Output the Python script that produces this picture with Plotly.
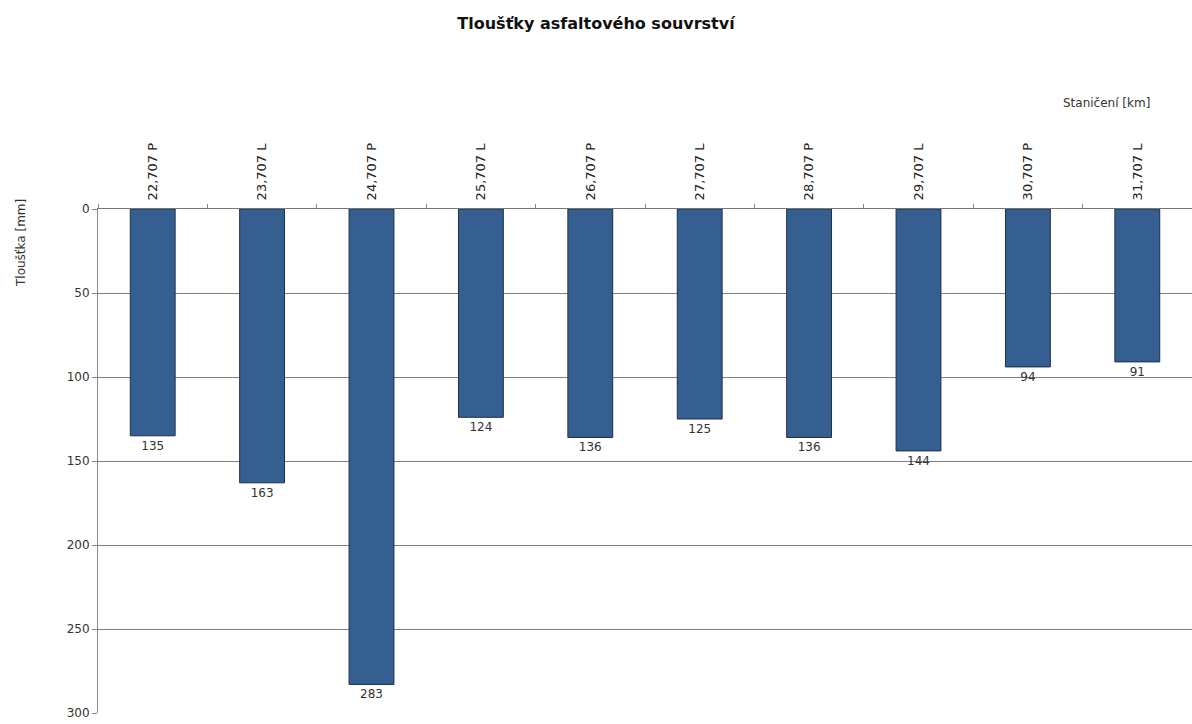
import plotly.graph_objects as go

categories = ["22,707 P", "23,707 L", "24,707 P", "25,707 L", "26,707 P",
              "27,707 L", "28,707 P", "29,707 L", "30,707 P", "31,707 L"]
values = [135, 163, 283, 124, 136, 125, 136, 144, 94, 91]
y_ticks = [0, 50, 100, 150, 200, 250, 300]

font = "DejaVu Sans, sans-serif"

fig = go.Figure(go.Bar(
    x=categories, y=values,
    marker=dict(color="#365f91", line=dict(color="#1f2f45", width=1)),
    text=[str(v) for v in values], textposition="outside",
    textfont=dict(size=12, color="#333333", family=font),
    cliponaxis=False, width=0.41,
))

fig.update_layout(
    width=1192, height=724,
    margin=dict(l=98, r=0, t=209, b=11),
    paper_bgcolor="white", plot_bgcolor="white",
    showlegend=False,
    font=dict(family=font, size=12, color="#333333"),
    title=dict(text="<b>Tloušťky asfaltového souvrství</b>", x=0.5, xanchor="center",
               y=1 - 23 / 724, yanchor="middle", font=dict(size=16, color="#111111", family=font)),
    xaxis=dict(side="top", tickangle=-90, showgrid=False, showline=True,
               linecolor="#777777", linewidth=1, ticks="outside", ticklen=4,
               tickcolor="#888888", tickson="boundaries", ticklabelstandoff=5,
               tickfont=dict(size=13, color="#222222")),
    yaxis=dict(range=[300, 0], tickvals=y_ticks, showgrid=True, gridcolor="#808080",
               gridwidth=1, showline=True, linecolor="#888888", ticks="outside",
               ticklen=5, tickcolor="#888888", zeroline=False,
               tickfont=dict(size=12, color="#333333")),
    annotations=[
        dict(text="Tloušťka [mm]", xref="paper", yref="paper", x=(21 - 98) / 1094,
             y=(713 - 243) / 504, xanchor="center", yanchor="middle",
             textangle=-90, showarrow=False, font=dict(size=12, color="#333333")),
        dict(text="Staničení [km]", xref="paper", yref="paper", x=(1106 - 98) / 1094,
             y=(713 - 103) / 504, xanchor="center", yanchor="middle",
             showarrow=False, font=dict(size=12, color="#333333")),
    ],
)

fig.write_html("out.html")
